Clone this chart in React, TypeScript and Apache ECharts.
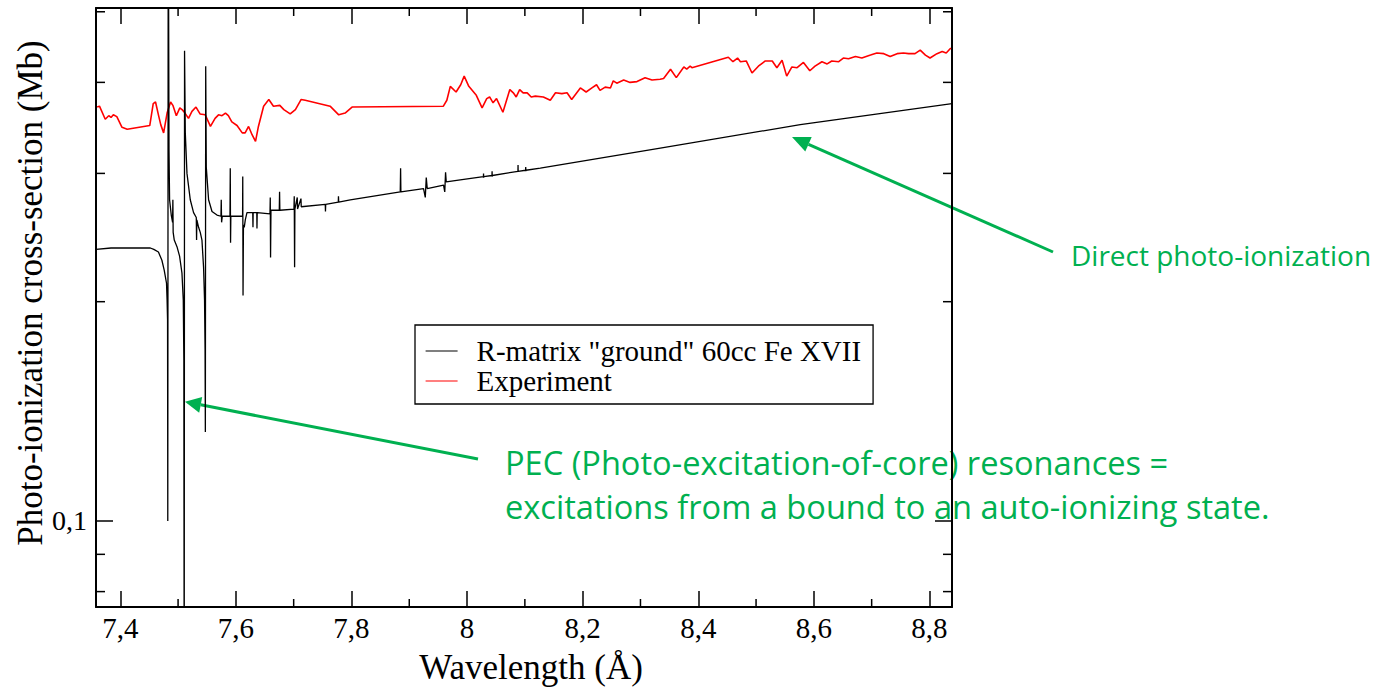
import { useEffect, useRef } from "react";
import * as echarts from "echarts";

const X_MIN = 7.358;
const X_MAX = 8.839;
const Y_MIN = 0.0762;
const Y_MAX = 0.506;

const xMinorTicks = [7.5, 7.7, 7.9, 8.1, 8.3, 8.5, 8.7];
const yMinorTicks = [0.08, 0.09, 0.2, 0.3, 0.4, 0.5];

const seriesNames = ['R-matrix "ground" 60cc Fe XVII', "Experiment"];

// R-matrix theory: [wavelength (Å), cross-section (Mb)]
const theory: [number, number][] = [
  [7.358, 0.236], [7.384, 0.237], [7.435, 0.237], [7.452, 0.237], [7.458, 0.236],
  [7.466, 0.234], [7.472, 0.228], [7.476, 0.221], [7.48, 0.212], [7.481, 0.201],
  [7.4818, 0.189], [7.4822, 0.1], [7.483, 0.8], [7.4843, 0.323], [7.4853, 0.276],
  [7.4882, 0.263], [7.4905, 0.257], [7.491, 0.276], [7.4915, 0.249], [7.4934, 0.243],
  [7.4981, 0.238], [7.5026, 0.231], [7.5067, 0.219], [7.509, 0.201], [7.51, 0.166],
  [7.5106, 0.05], [7.5112, 0.442], [7.5125, 0.341], [7.5154, 0.3], [7.5211, 0.276],
  [7.5268, 0.265], [7.5315, 0.261], [7.532, 0.243], [7.5325, 0.259], [7.5355, 0.253],
  [7.5384, 0.249], [7.5413, 0.243], [7.5441, 0.223], [7.5458, 0.201], [7.5467, 0.172],
  [7.5472, 0.1325], [7.5478, 0.421], [7.5488, 0.306], [7.5528, 0.276], [7.5587, 0.266],
  [7.5673, 0.263], [7.5742, 0.262], [7.5747, 0.276], [7.5753, 0.257], [7.5765, 0.262],
  [7.5898, 0.262], [7.5903, 0.305], [7.5908, 0.241], [7.5913, 0.262], [7.6076, 0.262],
  [7.6116, 0.262], [7.6119, 0.297], [7.6124, 0.204], [7.6131, 0.255], [7.6145, 0.253],
  [7.6163, 0.259], [7.6192, 0.265], [7.6292, 0.265], [7.6296, 0.253], [7.6299, 0.265],
  [7.6362, 0.265], [7.6365, 0.252], [7.6369, 0.265], [7.659, 0.264], [7.6595, 0.278],
  [7.66, 0.23], [7.6607, 0.267], [7.6751, 0.267], [7.6756, 0.283], [7.6761, 0.267],
  [7.7005, 0.268], [7.701, 0.279], [7.7016, 0.223], [7.7021, 0.268], [7.7062, 0.278],
  [7.7067, 0.268], [7.7126, 0.277], [7.7131, 0.27], [7.7547, 0.272], [7.755, 0.266],
  [7.7554, 0.272], [7.7772, 0.274], [7.7775, 0.279], [7.7779, 0.274], [7.7979, 0.276],
  [7.8844, 0.283], [7.885, 0.305], [7.8855, 0.283], [7.9247, 0.286], [7.9277, 0.278],
  [7.9294, 0.296], [7.9311, 0.286], [7.9593, 0.289], [7.9614, 0.283], [7.9628, 0.301],
  [7.964, 0.292], [7.9882, 0.294], [8.0283, 0.297], [8.0285, 0.3], [8.0287, 0.296],
  [8.0289, 0.297], [8.0431, 0.298], [8.0433, 0.302], [8.0435, 0.297], [8.0437, 0.298],
  [8.088, 0.302], [8.0882, 0.308], [8.0884, 0.302], [8.1013, 0.303], [8.1015, 0.306],
  [8.1017, 0.302], [8.1019, 0.303], [8.1267, 0.305], [8.3343, 0.325], [8.5765, 0.35],
  [8.839, 0.374],
];

// Experiment: [wavelength (Å), cross-section (Mb)]
const experiment: [number, number][] = [
  [7.36, 0.37], [7.364, 0.371], [7.374, 0.356], [7.38, 0.36], [7.384, 0.358],
  [7.388, 0.361], [7.394, 0.359], [7.403, 0.347], [7.412, 0.345], [7.451, 0.349],
  [7.457, 0.374], [7.461, 0.376], [7.466, 0.361], [7.47, 0.35], [7.475, 0.341],
  [7.481, 0.363], [7.487, 0.376], [7.491, 0.372], [7.497, 0.36], [7.503, 0.369],
  [7.507, 0.367], [7.512, 0.363], [7.518, 0.357], [7.524, 0.365], [7.531, 0.37],
  [7.538, 0.362], [7.547, 0.361], [7.556, 0.348], [7.564, 0.357], [7.57, 0.361],
  [7.576, 0.36], [7.582, 0.363], [7.587, 0.36], [7.593, 0.353], [7.602, 0.349],
  [7.611, 0.341], [7.616, 0.341], [7.622, 0.348], [7.628, 0.339], [7.634, 0.332],
  [7.639, 0.348], [7.648, 0.371], [7.657, 0.379], [7.665, 0.371], [7.676, 0.372],
  [7.683, 0.367], [7.694, 0.362], [7.703, 0.367], [7.713, 0.379], [7.72, 0.378],
  [7.763, 0.371], [7.778, 0.361], [7.789, 0.363], [7.801, 0.37], [7.959, 0.371],
  [7.965, 0.378], [7.971, 0.395], [7.981, 0.388], [7.989, 0.397], [7.995, 0.408],
  [8.003, 0.395], [8.016, 0.384], [8.026, 0.369], [8.034, 0.38], [8.039, 0.382],
  [8.045, 0.375], [8.051, 0.38], [8.062, 0.364], [8.074, 0.391], [8.08, 0.387],
  [8.085, 0.382], [8.091, 0.391], [8.097, 0.387], [8.104, 0.387], [8.111, 0.382],
  [8.118, 0.383], [8.132, 0.382], [8.144, 0.378], [8.153, 0.387], [8.164, 0.386],
  [8.173, 0.387], [8.181, 0.379], [8.196, 0.393], [8.206, 0.388], [8.216, 0.393],
  [8.224, 0.397], [8.23, 0.39], [8.239, 0.394], [8.248, 0.393], [8.253, 0.402],
  [8.259, 0.399], [8.271, 0.403], [8.282, 0.4], [8.294, 0.401], [8.308, 0.406],
  [8.32, 0.403], [8.334, 0.404], [8.34, 0.405], [8.352, 0.417], [8.362, 0.406],
  [8.375, 0.42], [8.38, 0.417], [8.386, 0.421], [8.389, 0.419], [8.452, 0.433],
  [8.46, 0.427], [8.468, 0.432], [8.473, 0.427], [8.483, 0.428], [8.493, 0.412],
  [8.504, 0.421], [8.516, 0.428], [8.528, 0.428], [8.536, 0.419], [8.545, 0.429],
  [8.553, 0.408], [8.562, 0.42], [8.571, 0.419], [8.582, 0.426], [8.593, 0.415],
  [8.602, 0.421], [8.614, 0.427], [8.623, 0.424], [8.631, 0.428], [8.643, 0.427],
  [8.651, 0.432], [8.66, 0.431], [8.672, 0.434], [8.683, 0.432], [8.698, 0.436],
  [8.709, 0.439], [8.721, 0.438], [8.732, 0.434], [8.744, 0.438], [8.755, 0.439],
  [8.764, 0.438], [8.775, 0.438], [8.784, 0.443], [8.793, 0.436], [8.801, 0.432],
  [8.813, 0.438], [8.822, 0.441], [8.829, 0.439], [8.837, 0.446],
];

const SERIF = '"Liberation Serif", "Times New Roman", serif';
const SANS = '"Open Sans", "Noto Sans", sans-serif';
const GREEN = "#00b050";

export default function App() {
  const ref = useRef<HTMLDivElement>(null);

  useEffect(() => {
    if (!ref.current) return;
    const chart = echarts.init(ref.current, null, { renderer: "svg" });

    const tickLine = { color: "#000", width: 1.5 };
    const axisLine = { show: true, lineStyle: { color: "#000", width: 2 } };

    const xBase = {
      type: "value",
      min: X_MIN,
      max: X_MAX,
      minInterval: 0.2,
      maxInterval: 0.2,
      splitNumber: 7,
      splitLine: { show: false },
      axisLine,
      axisTick: { show: true, inside: true, length: 16, lineStyle: tickLine },
    };
    const yBase = {
      type: "log",
      logBase: 10,
      min: Y_MIN,
      max: Y_MAX,
      splitLine: { show: false },
      axisLine,
      axisTick: { show: true, inside: true, length: 17, lineStyle: tickLine },
    };

    const greenText = (x: number, y: number, text: string, size: number) => ({
      type: "text",
      x,
      y,
      style: {
        text,
        fontFamily: SANS,
        fontSize: size,
        fill: GREEN,
        align: "left",
        verticalAlign: "middle",
      },
    });

    const option: any = {
      animation: false,
      backgroundColor: "#fff",
      grid: { left: 96, right: 433, top: 8, bottom: 80, outerBoundsMode: "none" },
      xAxis: [
        {
          ...xBase,
          position: "bottom",
          axisLabel: {
            show: true,
            interval: 0,
            color: "#000",
            fontFamily: SERIF,
            fontSize: 29,
            margin: 6,
            showMinLabel: false,
            showMaxLabel: false,
            formatter: (v: number) => String(Math.round(v * 10) / 10).replace(".", ","),
          },
        },
        { ...xBase, position: "top", axisLabel: { show: false } },
      ],
      yAxis: [
        {
          ...yBase,
          position: "left",
          axisLabel: {
            show: true,
            color: "#000",
            fontFamily: SERIF,
            fontSize: 28,
            margin: 9,
            showMinLabel: false,
            showMaxLabel: false,
            formatter: (v: number) => (Math.abs(v - 0.1) < 1e-6 ? "0,1" : ""),
          },
        },
        { ...yBase, position: "right", axisLabel: { show: false } },
      ],
      legend: {
        data: seriesNames,
        orient: "vertical",
        left: 415,
        top: 325,
        padding: [11, 12, 8, 10],
        itemGap: 0,
        itemWidth: 32,
        itemHeight: 14,
        borderColor: "#000",
        borderWidth: 1.3,
        backgroundColor: "#fff",
        selectedMode: false,
        itemStyle: { opacity: 0 },
        lineStyle: { width: 1.2 },
        textStyle: {
          color: "#000",
          fontFamily: SERIF,
          fontSize: 29,
          lineHeight: 20,
          padding: [0, 0, 10, 14],
        },
      },
      series: [
        {
          name: seriesNames[1],
          type: "line",
          data: experiment,
          showSymbol: false,
          symbol: "none",
          clip: true,
          lineStyle: { color: "#ff0000", width: 1.6 },
          itemStyle: { color: "#ff0000" },
          z: 2,
        },
        {
          name: seriesNames[0],
          type: "line",
          data: theory,
          showSymbol: false,
          symbol: "none",
          clip: true,
          lineStyle: { color: "#000", width: 1.3 },
          itemStyle: { color: "#000" },
          z: 3,
        },
        {
          name: "xMinorTicks",
          type: "custom",
          silent: true,
          clip: false,
          z: 5,
          data: xMinorTicks.map((v) => [v, 0.1]),
          renderItem: (params: any, api: any) => {
            const p = api.coord([api.value(0), 0.1]);
            const cs = params.coordSys;
            const top = cs.y;
            const bot = cs.y + cs.height;
            const st = { stroke: "#000", lineWidth: 1.5 };
            return {
              type: "group",
              children: [
                { type: "line", shape: { x1: p[0], y1: bot, x2: p[0], y2: bot - 8 }, style: st },
                { type: "line", shape: { x1: p[0], y1: top, x2: p[0], y2: top + 8 }, style: st },
              ],
            };
          },
        },
        {
          name: "yMinorTicks",
          type: "custom",
          silent: true,
          clip: false,
          z: 5,
          data: yMinorTicks.map((v) => [8, v]),
          renderItem: (params: any, api: any) => {
            const p = api.coord([8, api.value(1)]);
            const cs = params.coordSys;
            const left = cs.x;
            const right = cs.x + cs.width;
            const st = { stroke: "#000", lineWidth: 1.5 };
            return {
              type: "group",
              children: [
                { type: "line", shape: { x1: left, y1: p[1], x2: left + 9, y2: p[1] }, style: st },
                { type: "line", shape: { x1: right, y1: p[1], x2: right - 9, y2: p[1] }, style: st },
              ],
            };
          },
        },
      ],
      graphic: [
        {
          type: "text",
          x: 30,
          y: 293,
          rotation: Math.PI / 2,
          style: {
            text: "Photo-ionization cross-section (Mb)",
            fontFamily: SERIF,
            fontSize: 35,
            fill: "#000",
            align: "center",
            verticalAlign: "middle",
          },
        },
        {
          type: "text",
          x: 531,
          y: 667,
          style: {
            text: "Wavelength (Å)",
            fontFamily: SERIF,
            fontSize: 35,
            fill: "#000",
            align: "center",
            verticalAlign: "middle",
          },
        },
        greenText(1071, 255, "Direct photo-ionization", 28),
        greenText(505, 462, "PEC (Photo-excitation-of-core) resonances =", 32.6),
        greenText(505, 506, "excitations from a bound to an auto-ionizing state.", 32.6),
        {
          type: "line",
          shape: { x1: 1053, y1: 252, x2: 808.5, y2: 144.3 },
          style: { stroke: GREEN, lineWidth: 3 },
        },
        {
          type: "polygon",
          shape: { points: [[792, 137], [811.7, 137.0], [805.3, 151.6]] },
          style: { fill: GREEN },
        },
        {
          type: "line",
          shape: { x1: 478, y1: 459, x2: 200.7, y2: 404.8 },
          style: { stroke: GREEN, lineWidth: 3 },
        },
        {
          type: "polygon",
          shape: { points: [[185, 401.7], [202.2, 397.0], [199.2, 412.7]] },
          style: { fill: GREEN },
        },
      ],
    };

    chart.setOption(option);
    return () => chart.dispose();
  }, []);

  return (
    <div
      ref={ref}
      style={{
        position: "absolute",
        left: 0,
        top: 0,
        width: 1385,
        height: 687,
        fontVariantLigatures: "none",
      }}
    />
  );
}
